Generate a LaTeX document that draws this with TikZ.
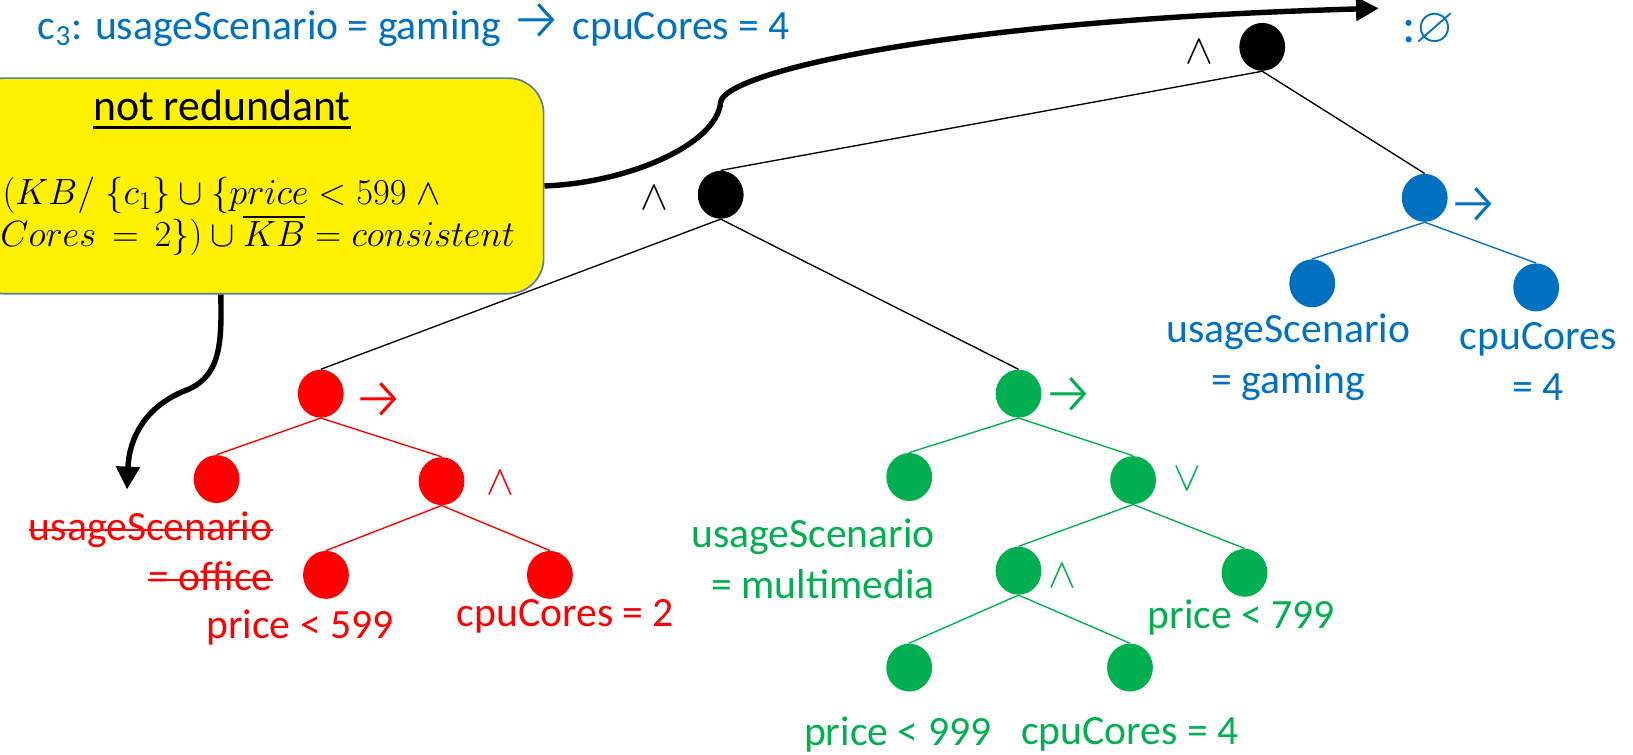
\RequirePackage{fix-cm}
\documentclass[tikz,border=0pt]{standalone}
\usepackage{amssymb}
\usepackage[no-math]{fontspec}
\setmainfont{Carlito}
\newfontfamily\arrfont{Fira Sans Light}
\usetikzlibrary{shapes.geometric,arrows.meta}
\definecolor{cblue}{RGB}{0,112,192}
\definecolor{cred}{RGB}{255,0,0}
\definecolor{cgreen}{RGB}{0,176,80}
\definecolor{cborder}{RGB}{90,125,160}
\newcommand{\arr}{{\arrfont\fontsize{28}{28}\selectfont →}}
\begin{document}
\begin{tikzpicture}[x=0.5pt,y=-0.5pt,
 dot/.style={ellipse,minimum width=22pt,minimum height=23pt,inner sep=0pt,fill=#1},
 link/.style={draw=#1,line width=0.65pt},
 lab/.style={text=#1,font=\fontsize{20}{24.5}\selectfont,inner sep=0pt},
 mathline/.style={anchor=base west,inner sep=0pt,font=\fontsize{17.5}{20}\selectfont},
 bigarrow/.style={line width=2.6pt,-{Triangle[length=11pt,width=11pt]}}]
\useasboundingbox (0,0) rectangle (1568,724);

% title
\node[lab=cblue,anchor=base west] (title) at (36,38) {c\textsubscript{3}: usageScenario = gaming \arr\ cpuCores = 4};
\node[lab=cblue,anchor=base west,font=\fontsize{24}{24}\selectfont] (empty) at (1346,41) {:$\varnothing$};

% yellow box
\node[draw=cborder,line width=0.8pt,fill=yellow,rounded corners=17pt,minimum width=276pt,minimum height=103.5pt] (note) at (246,178.5) {};
\node[lab=black,anchor=base,font=\fontsize{21}{24}\selectfont] (nr) at (213,116) {not redundant};
\draw[line width=1.4pt] ([yshift=-3pt]nr.base west) -- ([yshift=-3pt]nr.base east);
\node[mathline] (m1) at (2,196) {$(KB/\;\{c_1\}\cup\{price<599\;\wedge$};
\node[mathline] (m2) at (0,237) {$Cores\,=\,2\})\cup\overline{KB}=consistent$};

% tree nodes
\node[dot=black] (R) at (1212,45) {};
\node[dot=black] (A) at (692,187) {};
\node[dot=cblue] (B) at (1368,190) {};
\node[dot=cblue] (BL) at (1260,272) {};
\node[dot=cblue] (BR) at (1475,276) {};
\node[dot=cred] (RT) at (308,378) {};
\node[dot=cred] (RL) at (208,460) {};
\node[dot=cred] (RR) at (424,462) {};
\node[dot=cred] (RRL) at (313,552) {};
\node[dot=cred] (RRR) at (528,552) {};
\node[dot=cgreen] (GT) at (978,378) {};
\node[dot=cgreen] (GL) at (873,458) {};
\node[dot=cgreen] (GR) at (1088,461) {};
\node[dot=cgreen] (GRL) at (978,548) {};
\node[dot=cgreen] (GRR) at (1195,550) {};
\node[dot=cgreen] (GRLL) at (873,641) {};
\node[dot=cgreen] (GRLR) at (1085,641) {};

% edges
\draw[link=black] (R.south) -- (A.north);
\draw[link=black] (R.south) -- (B.north);
\draw[link=black] (A.south) -- (RT.north);
\draw[link=black] (A.south) -- (GT.north);
\draw[link=cblue] (B.south) -- (BL.north);
\draw[link=cblue] (B.south) -- (BR.north);
\draw[link=cred] (RT.south) -- (RL.north);
\draw[link=cred] (RT.south) -- (RR.north);
\draw[link=cred] (RR.south) -- (RRL.north);
\draw[link=cred] (RR.south) -- (RRR.north);
\draw[link=cgreen] (GT.south) -- (GL.north);
\draw[link=cgreen] (GT.south) -- (GR.north);
\draw[link=cgreen] (GR.south) -- (GRL.north);
\draw[link=cgreen] (GR.south) -- (GRR.north);
\draw[link=cgreen] (GRL.south) -- (GRLL.north);
\draw[link=cgreen] (GRL.south) -- (GRLR.north);

% operator labels
\node[lab=black] (oR) at (1152,50) {$\wedge$};
\node[lab=black] (oA) at (628,190) {$\wedge$};
\node[lab=cblue] (oB) at (1415,197) {\arr};
\node[lab=cred] (oRT) at (364,385) {\arr};
\node[lab=cgreen] (oGT) at (1026,380) {\arr};
\node[lab=cred] (oRR) at (480,464) {$\wedge$};
\node[lab=cgreen] (oGR) at (1140,460) {$\vee$};
\node[lab=cgreen] (oGRL) at (1020,553) {$\wedge$};

% leaf labels
\node[lab=cblue,align=center] (tBL) at (1237,343) {usageScenario\\= gaming};
\node[lab=cblue,align=center] (tBR) at (1477,347) {cpuCores\\= 4};
\node[lab=cred,anchor=base east] (tRLa) at (262,519) {usageScenario};
\node[lab=cred,anchor=base east] (tRLb) at (262,567) {= office};
\draw[cred,line width=1.2pt] ([yshift=5pt]tRLa.base west) -- ([yshift=5pt]tRLa.base east);
\draw[cred,line width=1.2pt] ([yshift=5pt]tRLb.base west) -- ([yshift=5pt]tRLb.base east);
\node[lab=cred] (tRRL) at (288,603) {price < 599};
\node[lab=cred] (tRRR) at (543,592) {cpuCores = 2};
\node[lab=cgreen,align=right,anchor=east] (tGL) at (898,537) {usageScenario\\= multimedia};
\node[lab=cgreen] (tGRR) at (1192,593) {price < 799};
\node[lab=cgreen] (tGRLL) at (862,705) {price < 999};
\node[lab=cgreen] (tGRLR) at (1085,705) {cpuCores = 4};

% thick arrows
\coordinate (tip1) at (1324,8);
\coordinate (tip2) at (122,470);
\draw[bigarrow] (note.east) .. controls (600,176) and (688,140) .. (692,98)
  .. controls (696,70) and (900,20) .. (tip1);
\draw[bigarrow] ([xshift=-17pt]note.south) .. controls (213,330) and (212,362) .. (178,375)
  .. controls (140,390) and (124,420) .. (tip2);
\end{tikzpicture}
\end{document}
